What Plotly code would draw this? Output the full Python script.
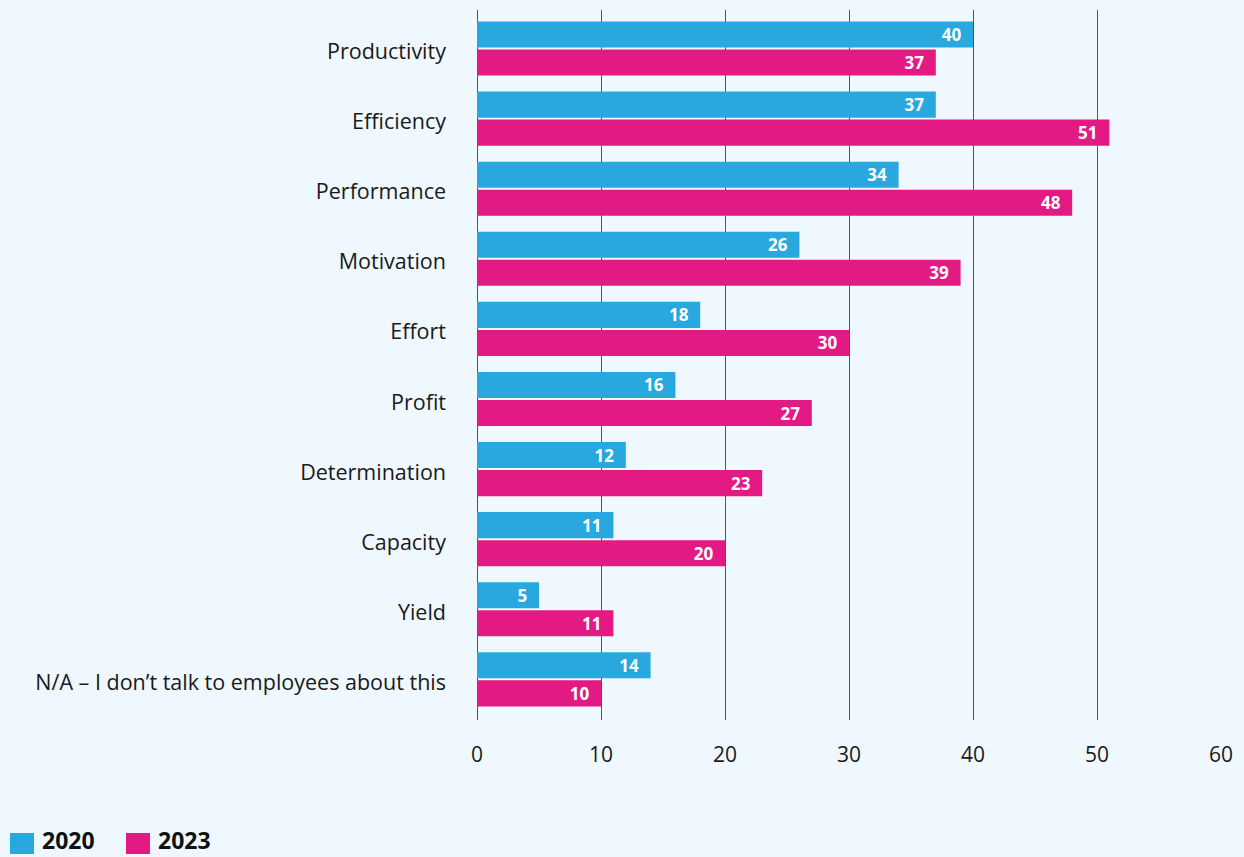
import plotly.graph_objects as go

# Survey answers, top to bottom
categories = [
    "Productivity", "Efficiency", "Performance", "Motivation", "Effort",
    "Profit", "Determination", "Capacity", "Yield",
    "N/A – I don’t talk to employees about this",
]
values_2020 = [40, 37, 34, 26, 18, 16, 12, 11, 5, 14]
values_2023 = [37, 51, 48, 39, 30, 27, 23, 20, 11, 10]
x_ticks = [0, 10, 20, 30, 40, 50, 60]

series_names = ["2020", "2023"]
series_colors = ["#29A8E0", "#E31A84"]
BG = "#EEF8FE"
FONT = "'Open Sans', Lato, sans-serif"

fig = go.Figure()
for name, vals, color in zip(series_names, [values_2020, values_2023], series_colors):
    fig.add_trace(go.Bar(
        name=name,
        y=categories,
        x=vals,
        orientation="h",
        marker=dict(color=color, line=dict(width=0)),
        text=[f"{v}\u00a0\u00a0" for v in vals],
        textposition="inside",
        insidetextanchor="end",
        textangle=0,
        constraintext="none",
        textfont=dict(color="white", size=17, family=FONT, weight="bold"),
        showlegend=False,
        hoverinfo="skip",
    ))

fig.update_layout(
    width=1244,
    height=857,
    barmode="group",
    bargap=0.2,
    bargroupgap=0.07,
    paper_bgcolor=BG,
    plot_bgcolor=BG,
    margin=dict(l=477, r=23, t=10, b=137),
    font=dict(family=FONT, color="#1a1a1a", size=19),
    xaxis=dict(
        range=[0, 60],
        tickvals=x_ticks,
        showgrid=True,
        gridcolor="#555555",
        gridwidth=1,
        zeroline=True,
        zerolinecolor="#555555",
        zerolinewidth=1,
        showline=False,
        ticks="",
        ticklabelstandoff=20,
        tickfont=dict(size=21, color="#1a1a1a"),
    ),
    yaxis=dict(
        categoryorder="array",
        categoryarray=categories,
        range=[9.58, -0.55],
        showgrid=False,
        zeroline=False,
        showline=False,
        ticks="",
        ticklabelstandoff=30,
        ticklabelshift=-3,
        tickfont=dict(size=21.5, color="#1a1a1a"),
    ),
)

# Legend row beneath the chart: colour swatch followed by series name
legend_x = [10, 126]
for lx, name, color in zip(legend_x, series_names, series_colors):
    fig.add_shape(
        type="rect", xref="paper", yref="paper",
        x0=(lx - 477) / 744, x1=(lx + 24 - 477) / 744,
        y0=(720 - 854) / 710, y1=(720 - 833) / 710,
        fillcolor=color, line=dict(width=0),
    )
    fig.add_annotation(
        xref="paper", yref="paper",
        x=(lx + 30 - 477) / 744, y=(720 - 840) / 710,
        xanchor="left", yanchor="middle",
        text=f"<b>{name}</b>", showarrow=False,
        font=dict(size=23, color="#111111", family=FONT),
    )

fig.write_html("out.html")
